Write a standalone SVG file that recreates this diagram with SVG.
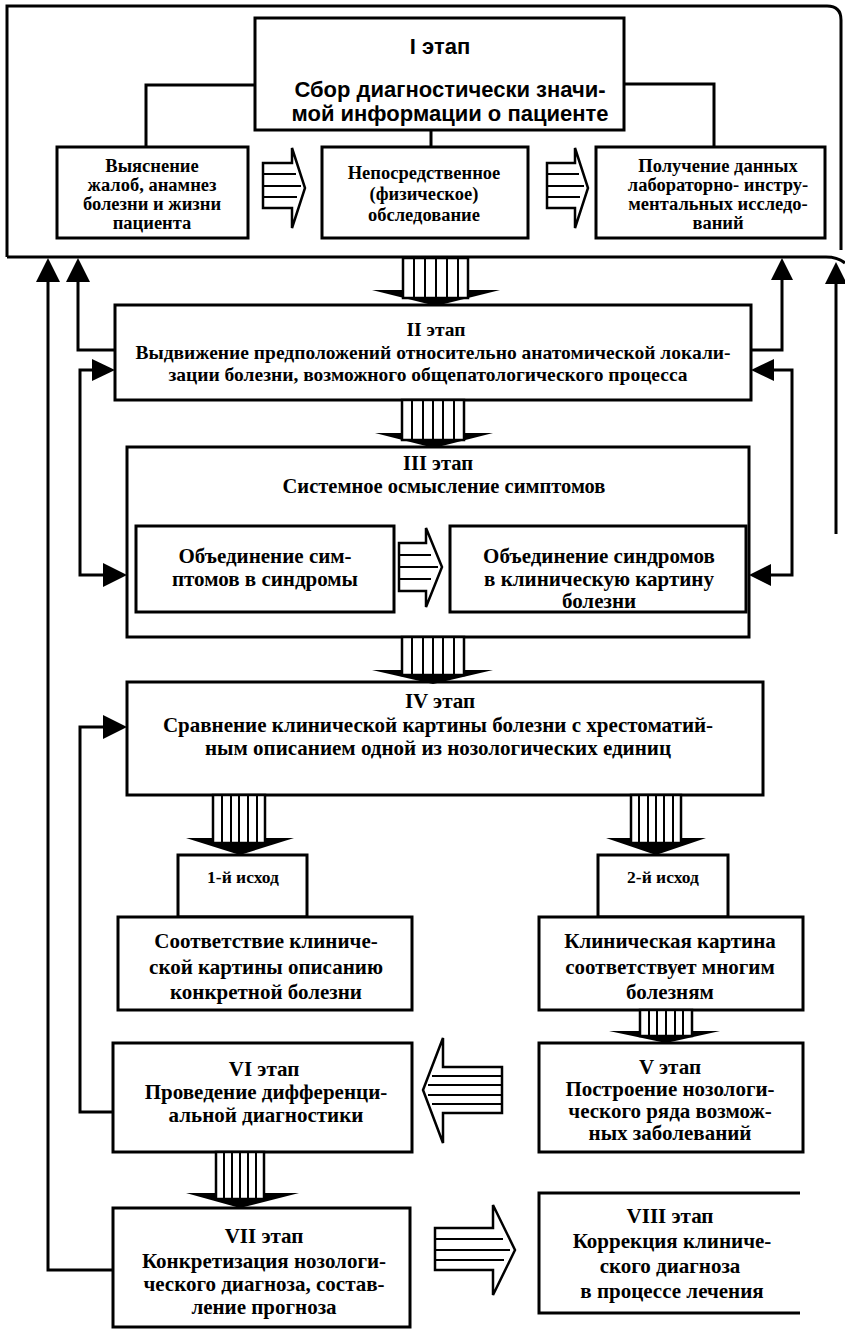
<svg xmlns="http://www.w3.org/2000/svg" width="845" height="1330" viewBox="0 0 845 1330">
<style>
.bx{fill:#fff;stroke:#000;stroke-width:3}
.ln{fill:none;stroke:#000;stroke-width:3}
.ah{fill:#000;stroke:none}
.ar{fill:#fff;stroke:#000;stroke-width:2.5}
.sp{stroke:#000;stroke-width:2}
.t{font-family:"Liberation Serif","DejaVu Serif",serif;font-weight:bold;font-size:21px;text-anchor:middle;fill:#000}
.m{font-size:18.5px}
.k{font-size:19.5px}
.j{font-size:20.5px}
.h{font-size:17.5px}
.s{font-family:"Liberation Sans","DejaVu Sans",sans-serif;font-weight:bold;font-size:22px;text-anchor:middle;fill:#000}
</style>
<rect width="845" height="1330" fill="#fff"/>

<g id="stage1-frame">
<path class="ln" d="M7,257 V6 H827 Q841,6 841,20 V250"/>
<path class="ln" d="M7,257 H826 Q838,257 845,263"/>
</g>

<g id="stage1-title">
<rect class="bx" x="255" y="18" width="369" height="112"/>
<text class="s" x="440" y="54">I этап</text>
<text class="s" x="450" y="97">Сбор диагностически значи-</text>
<text class="s" x="450" y="121">мой информации о пациенте</text>
</g>

<g id="stage1-complaints">
<rect class="bx" x="57" y="147" width="191" height="91"/>
<text class="t m" x="152" y="172">Выяснение</text>
<text class="t m" x="152" y="191">жалоб, анамнез</text>
<text class="t m" x="152" y="210">болезни и жизни</text>
<text class="t m" x="152" y="229">пациента</text>
</g>

<g id="stage1-exam">
<rect class="bx" x="322" y="147" width="206" height="91"/>
<text class="t m" x="424" y="179">Непосредственное</text>
<text class="t m" x="424" y="200">(физическое)</text>
<text class="t m" x="424" y="221">обследование</text>
</g>

<g id="stage1-lab">
<rect class="bx" x="596" y="147" width="229" height="91"/>
<text class="t m" x="718" y="172">Получение данных</text>
<text class="t m" x="718" y="191">лабораторно- инстру-</text>
<text class="t m" x="718" y="210">ментальных исследо-</text>
<text class="t m" x="718" y="229">ваний</text>
</g>

<g id="stage2">
<rect class="bx" x="115" y="305" width="636" height="95"/>
<text class="t k" x="436" y="336">II этап</text>
<text class="t k" x="433" y="359">Выдвижение предположений относительно анатомической локали-</text>
<text class="t k" x="428" y="381">зации болезни, возможного общепатологического процесса</text>
</g>

<g id="stage3">
<rect class="bx" x="127" y="447" width="622" height="190"/>
<text class="t j" x="438" y="470">III этап</text>
<text class="t j" x="444" y="493">Системное осмысление симптомов</text>
</g>

<g id="stage3-symptoms">
<rect class="bx" x="136" y="526" width="258" height="86"/>
<text class="t" x="265" y="563">Объединение сим-</text>
<text class="t" x="265" y="586">птомов в синдромы</text>
</g>

<g id="stage3-syndromes">
<rect class="bx" x="450" y="526" width="296" height="86"/>
<text class="t" x="599" y="563">Объединение синдромов</text>
<text class="t" x="599" y="586">в клиническую картину</text>
<text class="t" x="599" y="608">болезни</text>
</g>

<g id="stage4">
<rect class="bx" x="127" y="682" width="636" height="113"/>
<text class="t" x="440" y="708">IV этап</text>
<text class="t" x="438" y="732">Сравнение клинической картины болезни с хрестоматий-</text>
<text class="t" x="438" y="755">ным описанием одной из нозологических единиц</text>
</g>

<g id="outcome1">
<rect class="bx" x="178" y="855" width="129" height="62"/>
<text class="t h" x="243" y="883">1-й исход</text>
</g>

<g id="outcome2">
<rect class="bx" x="598" y="855" width="130" height="62"/>
<text class="t h" x="663" y="883">2-й исход</text>
</g>

<g id="match-one">
<rect class="bx" x="118" y="917" width="294" height="93"/>
<text class="t" x="266" y="948">Соответствие клиниче-</text>
<text class="t" x="266" y="974">ской картины описанию</text>
<text class="t" x="266" y="999">конкретной болезни</text>
</g>

<g id="match-many">
<rect class="bx" x="539" y="917" width="264" height="93"/>
<text class="t" x="670" y="948">Клиническая картина</text>
<text class="t" x="670" y="974">соответствует многим</text>
<text class="t" x="670" y="999">болезням</text>
</g>

<g id="stage6">
<rect class="bx" x="113" y="1043" width="299" height="109"/>
<text class="t" x="264" y="1076">VI этап</text>
<text class="t" x="266" y="1099">Проведение дифференци-</text>
<text class="t" x="266" y="1122">альной диагностики</text>
</g>

<g id="stage5">
<rect class="bx" x="539" y="1043" width="264" height="109"/>
<text class="t" x="670" y="1074">V этап</text>
<text class="t" x="670" y="1096">Построение нозологи-</text>
<text class="t" x="670" y="1118">ческого ряда возмож-</text>
<text class="t" x="670" y="1140">ных заболеваний</text>
</g>

<g id="stage7">
<rect class="bx" x="113" y="1208" width="297" height="119"/>
<text class="t" x="264" y="1243">VII этап</text>
<text class="t" x="264" y="1268">Конкретизация нозологи-</text>
<text class="t" x="264" y="1291">ческого диагноза, состав-</text>
<text class="t" x="264" y="1314">ление прогноза</text>
</g>

<g id="stage8">
<path class="ln" d="M800,1193 H539 V1313 H800"/>
<text class="t" x="670" y="1223">VIII этап</text>
<text class="t" x="672" y="1248">Коррекция клиниче-</text>
<text class="t" x="670" y="1273">ского диагноза</text>
<text class="t" x="672" y="1298">в процессе лечения</text>
</g>

<g id="connectors">
<path class="ln" d="M255,85 H146 V147"/>
<path class="ln" d="M624,84 H714 V147"/>
<path class="ln" d="M431,130 V147"/>

<path class="ar" d="M263,163 H292 V148 L305,188 L292,228 V208 H263 Z"/>
<path class="sp" d="M263,174 H296 M263,186 H301 M263,197 H297"/>
<path class="ar" d="M547,163 H575 V148 L588,188 L575,228 V208 H547 Z"/>
<path class="sp" d="M547,174 H579 M547,186 H584 M547,197 H580"/>

<path class="ar" d="M399,543 H426 V528 L442,567 L426,607 V591 H399 Z"/>
<path class="sp" d="M399,555 H431 M399,567 H438 M399,579 H431"/>

<path class="ar" d="M502,1067 H443 V1038 L423,1090 L443,1143 V1113 H502 Z"/>
<path class="sp" d="M432,1076 H502 M428,1085 H502 M428,1095 H502 M432,1104 H502"/>

<path class="ar" d="M435,1228 H493 V1205 L515,1250 L493,1295 V1270 H435 Z"/>
<path class="sp" d="M435,1239 H503 M435,1250 H510 M435,1260 H504"/>

<polygon class="ah" points="372,290 500,290 436,306"/>
<rect class="ar" x="403" y="258" width="65" height="40"/>
<path class="sp" d="M414,258 V300 M425,258 V302 M436,258 V304 M447,258 V302 M458,258 V300"/>

<polygon class="ah" points="375,433 493,433 434,448"/>
<rect class="ar" x="402" y="400" width="62" height="40"/>
<path class="sp" d="M412,400 V442 M423,400 V444 M433,400 V446 M443,400 V444 M454,400 V442"/>

<polygon class="ah" points="372,670 493,670 433,684"/>
<rect class="ar" x="402" y="637" width="62" height="38"/>
<path class="sp" d="M412,637 V677 M423,637 V679 M433,637 V681 M443,637 V679 M454,637 V677"/>

<polygon class="ah" points="186,838 294,838 240,855"/>
<rect class="ar" x="213" y="795" width="52" height="48"/>
<path class="sp" d="M222,795 V845 M231,795 V848 M239,795 V850 M248,795 V848 M257,795 V845"/>

<polygon class="ah" points="606,838 706,838 656,855"/>
<rect class="ar" x="631" y="795" width="50" height="48"/>
<path class="sp" d="M639,795 V845 M648,795 V848 M656,795 V850 M664,795 V848 M673,795 V845"/>

<polygon class="ah" points="609,1031 720,1031 666,1043"/>
<rect class="ar" x="640" y="1010" width="52" height="26"/>
<path class="sp" d="M649,1010 V1038 M657,1010 V1040 M666,1010 V1041 M675,1010 V1040 M683,1010 V1038"/>

<polygon class="ah" points="186,1193 299,1193 240,1208"/>
<rect class="ar" x="216" y="1152" width="48" height="47"/>
<path class="sp" d="M224,1152 V1201 M232,1152 V1203 M240,1152 V1205 M248,1152 V1203 M256,1152 V1201"/>

<path class="ln" d="M113,1270 H48 V280"/>
<polygon class="ah" points="48,258 36,282 60,282"/>
<path class="ln" d="M115,350 H78 V280"/>
<polygon class="ah" points="78,258 66,282 90,282"/>
<path class="ln" d="M94,370 H80 V575 H105"/>
<polygon class="ah" points="115,370 92,359 92,381"/>
<polygon class="ah" points="127,575 103,563 103,587"/>
<path class="ln" d="M113,1112 H80 V727 H105"/>
<polygon class="ah" points="127,727 103,715 103,739"/>

<path class="ln" d="M751,350 H782 V278"/>
<polygon class="ah" points="782,258 771,280 793,280"/>
<path class="ln" d="M772,370 H792 V575 H769"/>
<polygon class="ah" points="751,370 774,359 774,381"/>
<polygon class="ah" points="749,575 771,564 771,586"/>
<path class="ln" d="M836,282 V534"/>
<polygon class="ah" points="836,262 825,284 847,284"/>
</g>
</svg>
